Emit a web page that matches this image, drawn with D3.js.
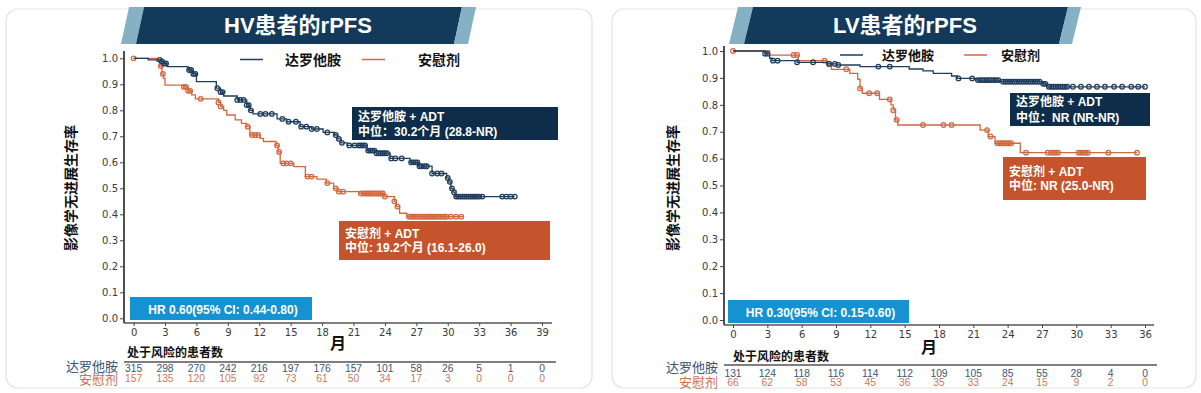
<!DOCTYPE html>
<html><head><meta charset="utf-8">
<script src="https://cdn.jsdelivr.net/npm/d3@7"></script>
<style>
body{margin:0;background:#fff}
svg{display:block}
text{font-family:"Liberation Sans","Noto Sans CJK SC",sans-serif}
.tick text{font-family:"DejaVu Sans","Liberation Sans",sans-serif}
</style>
</head><body>
<svg id="c" width="1201" height="393"></svg>
<script>
// ---------- data ----------
const titles = ["HV患者的rPFS", "LV患者的rPFS"];
const seriesNames = ["达罗他胺", "安慰剂"];
const yAxisTitle = "影像学无进展生存率";
const xAxisTitle = "月";
const riskTitle = "处于风险的患者数";
const yTicks = [0.0, 0.1, 0.2, 0.3, 0.4, 0.5, 0.6, 0.7, 0.8, 0.9, 1.0];
const hvTicks = [0, 3, 6, 9, 12, 15, 18, 21, 24, 27, 30, 33, 36, 39];
const lvTicks = [0, 3, 6, 9, 12, 15, 18, 21, 24, 27, 30, 33, 36];

const hvRiskDaro = [315, 298, 270, 242, 216, 197, 176, 157, 101, 58, 26, 5, 1, 0];
const hvRiskPbo  = [157, 135, 120, 105, 92, 73, 61, 50, 34, 17, 3, 0, 0, 0];
const lvRiskDaro = [131, 124, 118, 116, 114, 112, 109, 105, 85, 55, 28, 4, 0];
const lvRiskPbo  = [66, 62, 58, 53, 45, 36, 35, 33, 24, 15, 9, 2, 0];

// Kaplan-Meier steps: [month, survival after step]
const hvDaroSteps = [[0,1.0],[1.4,0.994],[2.6,0.988],[2.9,0.98],[3.2,0.968],[5.2,0.955],[5.6,0.94],[6.0,0.91],[7.9,0.885],[8.3,0.87],[8.6,0.855],[9.9,0.84],[10.8,0.82],[11.1,0.80],[11.4,0.786],[13.7,0.767],[14.6,0.756],[15.9,0.737],[17.0,0.728],[18.1,0.715],[19.2,0.705],[19.5,0.69],[19.8,0.675],[20.4,0.665],[22.3,0.645],[23.2,0.635],[24.5,0.615],[26.4,0.60],[27.2,0.585],[28.5,0.557],[29.9,0.54],[30.1,0.525],[30.3,0.50],[30.5,0.485],[30.7,0.468]];
const hvDaroEnd = 36.4;
const hvDaroCensor = [2.5,2.7,2.9,3.1,5.3,5.5,5.7,5.9,8.0,8.3,8.5,9.9,10.2,10.5,10.8,11.0,11.2,12.1,12.6,13.2,14.2,14.8,15.5,16.0,16.5,17.0,17.5,18.5,19.3,19.6,19.9,20.6,21.1,21.5,21.7,21.9,22.1,22.4,22.6,22.8,23.0,23.2,23.4,23.6,23.8,24.0,24.2,24.6,25.0,25.6,26.5,26.7,26.9,27.1,27.3,27.5,27.8,28.0,28.5,29.0,29.4,30.0,30.2,30.4,30.6,30.8,31.0,31.2,31.4,31.6,31.8,32.0,32.2,32.4,32.6,32.8,33.0,33.3,35.2,35.6,36.0,36.4];

const hvPboSteps = [[0,1.0],[2.2,0.99],[2.5,0.97],[2.7,0.94],[2.85,0.923],[3.0,0.897],[4.75,0.89],[5.2,0.875],[5.55,0.859],[5.9,0.844],[8.1,0.83],[8.3,0.815],[8.6,0.80],[8.9,0.782],[9.7,0.763],[10.3,0.75],[10.8,0.737],[11.1,0.705],[12.1,0.692],[12.4,0.68],[13.6,0.665],[13.8,0.64],[14.0,0.596],[15.3,0.583],[16.4,0.545],[17.5,0.535],[18.4,0.52],[19.1,0.50],[19.5,0.487],[21.6,0.48],[23.9,0.468],[24.9,0.45],[25.1,0.43],[25.4,0.404],[26.1,0.391]];
const hvPboEnd = 31.5;
const hvPboCensor = [0,2.6,2.8,4.8,5.0,5.2,5.4,6.4,8.1,8.3,10.9,11.3,11.6,11.9,13.7,13.9,14.3,14.6,15.0,16.6,17.0,18.5,19.3,19.6,20.0,21.7,22.0,22.2,22.4,22.6,22.8,23.0,23.2,23.4,23.6,23.8,24.0,24.9,25.2,26.3,26.5,26.7,26.9,27.1,27.3,27.5,27.7,27.9,28.1,28.3,28.5,28.7,28.9,29.1,29.3,29.5,29.7,29.9,30.3,30.8,31.3];

const lvDaroSteps = [[0,1.0],[2.8,0.99],[3.2,0.973],[3.4,0.964],[5.6,0.958],[8.2,0.952],[9.1,0.948],[11.1,0.942],[15.4,0.933],[16.6,0.926],[17.5,0.917],[19.1,0.907],[19.6,0.898],[21.3,0.892],[23.3,0.886],[27.0,0.878],[27.4,0.867]];
const lvDaroEnd = 36.0;
const lvDaroCensor = [2.8,3.0,3.5,3.9,5.6,7.0,8.4,8.9,9.2,12.7,13.7,19.7,20.9,21.4,21.6,21.8,22.0,22.2,22.4,22.6,22.8,23.0,23.2,23.6,23.8,24.0,24.2,24.4,24.6,24.8,25.0,25.2,25.4,25.6,25.8,26.0,26.2,26.4,26.6,26.8,27.1,27.3,27.6,27.8,28.0,28.2,28.4,28.6,28.8,29.0,29.2,29.7,30.4,31.1,31.8,32.5,33.3,34.0,34.8,35.4,36.0];

const lvPboSteps = [[0,1.0],[3.2,0.985],[5.7,0.964],[8.2,0.952],[8.6,0.932],[10.2,0.917],[10.9,0.895],[11.1,0.861],[11.3,0.843],[12.8,0.82],[13.8,0.80],[14.0,0.78],[14.2,0.744],[14.4,0.725],[21.6,0.706],[22.3,0.682],[22.9,0.657],[25.1,0.622]];
const lvPboEnd = 35.3;
const lvPboCensor = [0,5.3,5.6,8.0,8.4,9.9,11.1,11.9,12.6,13.7,14.0,14.3,16.6,18.4,19.1,22.2,22.5,23.1,23.3,23.5,23.7,23.9,24.1,24.3,25.6,27.5,27.8,28.0,28.2,28.4,30.2,30.4,30.6,30.8,31.0,32.8,35.3];

const hvDaroNote = ["达罗他胺 + ADT", "中位：30.2个月 (28.8-NR)"];
const hvPboNote  = ["安慰剂 + ADT", "中位: 19.2个月 (16.1-26.0)"];
const lvDaroNote = ["达罗他胺 + ADT", "中位：NR (NR-NR)"];
const lvPboNote  = ["安慰剂 + ADT", "中位: NR (25.0-NR)"];
const hvHR = "HR 0.60(95% CI: 0.44-0.80)";
const lvHR = "HR 0.30(95% CI: 0.15-0.60)";

// ---------- style ----------
const NAVY = "#1f3d5e", ORANGE = "#d2683f";
const NAVY_BOX = "#0e2d4a", ORANGE_BOX = "#c5532b", HR_BOX = "#1592d2";
const BANNER = "#133a5b", BANNER_LT = "#86b1c5";

const svg = d3.select("#c");

function survAt(steps, t) {
  let s = steps[0][1];
  for (const p of steps) { if (p[0] <= t + 1e-9) s = p[1]; else break; }
  return s;
}

function panel(o) {
  const g = svg.append("g");
  g.append("rect").attr("x", o.card[0]).attr("y", o.card[1]).attr("width", o.card[2]).attr("height", o.card[3])
    .attr("rx", 12).attr("fill", "#fff").attr("stroke", "#dfe3e7").attr("stroke-width", 1.2);

  // banner
  const b = o.banner;
  const [t0, t1] = [7, 44];
  const poly = pts => pts.map(p => p.join(",")).join(" ");
  g.append("polygon").attr("points", poly([[b[0], t1], [b[0] + b[4], t0], [b[1] + b[4], t0], [b[1], t1]])).attr("fill", BANNER_LT);
  g.append("polygon").attr("points", poly([[b[1], t1], [b[1] + b[4], t0], [b[2] + b[4], t0], [b[2], t1]])).attr("fill", BANNER);
  g.append("polygon").attr("points", poly([[b[2], t1], [b[2] + b[4], t0], [b[3] + b[4], t0], [b[3], t1]])).attr("fill", BANNER_LT);
  g.append("text").attr("x", o.titleX).attr("y", 33).attr("text-anchor", "middle").attr("fill", "#fff")
    .attr("font-size", 22).attr("font-weight", "bold").text(o.title);

  const x = d3.scaleLinear().domain([0, o.xMax]).range(o.xRange);
  const y = d3.scaleLinear().domain([0, 1]).range(o.yRange);

  // axes
  g.append("line").attr("x1", o.axX).attr("x2", o.axX).attr("y1", o.axYTop).attr("y2", o.axY)
    .attr("stroke", "#3c3c3c").attr("stroke-width", 1.8);
  g.append("line").attr("x1", o.axX).attr("x2", o.axXEnd).attr("y1", o.axY).attr("y2", o.axY)
    .attr("stroke", "#555").attr("stroke-width", 1.5);
  const ya = g.append("g").attr("transform", `translate(${o.axX},0)`)
    .call(d3.axisLeft(y).tickValues(yTicks).tickFormat(d3.format(".1f")).tickSize(4).tickPadding(2));
  const xa = g.append("g").attr("transform", `translate(0,${o.axY})`)
    .call(d3.axisBottom(x).tickValues(o.ticks).tickSize(3).tickPadding(3));
  [ya, xa].forEach(a => {
    a.select(".domain").remove();
    a.selectAll(".tick line").attr("stroke", "#444");
    a.selectAll(".tick text").attr("fill", "#3a3a3a").attr("font-size", 10);
  });

  // axis titles
  g.append("text").attr("transform", `translate(${o.yTitleX},188) rotate(-90)`).attr("text-anchor", "middle")
    .attr("dominant-baseline", "central").attr("font-size", 14).attr("font-weight", "bold").attr("fill", "#111").text(yAxisTitle);
  g.append("text").attr("x", o.monthPos[0]).attr("y", o.monthPos[1]).attr("text-anchor", "middle")
    .attr("dominant-baseline", "central").attr("font-size", 16).attr("font-weight", "bold").attr("fill", "#111").text(xAxisTitle);

  // legend
  const L = o.legend;
  [[NAVY, seriesNames[0], L.l1, L.t1], [ORANGE, seriesNames[1], L.l2, L.t2]].forEach(([c, name, lx, tx]) => {
    g.append("line").attr("x1", lx).attr("x2", lx + 23).attr("y1", L.y).attr("y2", L.y).attr("stroke", c).attr("stroke-width", 1.5);
    g.append("text").attr("x", tx).attr("y", L.y + L.fs * 0.38).attr("font-size", L.fs).attr("font-weight", "bold").attr("fill", "#111").text(name);
  });

  // curves
  const line = d3.line().x(d => x(d[0])).y(d => y(d[1])).curve(d3.curveStepAfter);
  o.series.forEach(s => {
    const pts = s.steps.concat([[s.end, s.steps[s.steps.length - 1][1]]]);
    g.append("path").attr("d", line(pts)).attr("fill", "none").attr("stroke", s.color).attr("stroke-width", 1.3);
    g.append("g").selectAll("circle").data(s.censor).join("circle")
      .attr("cx", t => x(t)).attr("cy", t => y(survAt(s.steps, t))).attr("r", 2.3)
      .attr("fill", "none").attr("stroke", s.color).attr("stroke-width", 1.25);
  });

  // note boxes
  o.notes.forEach(n => {
    g.append("rect").attr("x", n.box[0]).attr("y", n.box[1]).attr("width", n.box[2]).attr("height", n.box[3]).attr("fill", n.color);
    n.lines.forEach((txt, i) => {
      g.append("text").attr("x", n.box[0] + 6).attr("y", n.ty[i]).attr("dominant-baseline", "central")
        .attr("font-size", 12).attr("font-weight", "bold").attr("fill", "#fff").text(txt);
    });
  });
  g.append("rect").attr("x", o.hrBox[0]).attr("y", o.hrBox[1]).attr("width", o.hrBox[2]).attr("height", o.hrBox[3]).attr("fill", HR_BOX);
  g.append("text").attr("x", o.hrBox[0] + o.hrBox[2] / 2 + 2).attr("y", o.hrBox[1] + o.hrBox[3] / 2 + 1)
    .attr("text-anchor", "middle").attr("dominant-baseline", "central").attr("font-size", 12).attr("font-weight", "bold")
    .attr("fill", "#fff").text(o.hr);

  // risk table
  const R = o.risk;
  g.append("text").attr("x", R.titleX).attr("y", R.titleY).attr("dominant-baseline", "central").attr("font-size", 12)
    .attr("font-weight", "bold").attr("fill", "#111").text(riskTitle);
  g.append("line").attr("x1", o.axX).attr("x2", R.lineEnd).attr("y1", R.lineY).attr("y2", R.lineY).attr("stroke", "#555").attr("stroke-width", 1.5);
  [[seriesNames[0], R.lab1Y, "#35557a"], [seriesNames[1], R.lab2Y, "#c8734f"]].forEach(([t, yy, c]) => {
    g.append("text").attr("x", R.labX).attr("y", yy).attr("text-anchor", "end").attr("dominant-baseline", "central")
      .attr("font-size", 13).attr("fill", c).text(t);
  });
  [[o.riskDaro, R.row1Y, "#3b5573"], [o.riskPbo, R.row2Y, "#cd7a57"]].forEach(([arr, yy, c]) => {
    g.append("g").selectAll("text").data(arr).join("text")
      .attr("x", (d, i) => x(o.ticks[i])).attr("y", yy).attr("text-anchor", "middle").attr("dominant-baseline", "central")
      .attr("font-family", "DejaVu Sans, sans-serif").attr("font-size", 10.3).attr("fill", c).text(d => d);
  });
}

panel({
  card: [6, 9, 586, 379], banner: [121, 136, 454, 468, 8], title: titles[0], titleX: 298,
  xMax: 39, xRange: [133.6, 542], yRange: [318.3, 58.3], ticks: hvTicks,
  axX: 124, axY: 323, axYTop: 51, axXEnd: 552, yTitleX: 71, monthPos: [338, 343],
  legend: { l1: 240, t1: 285, l2: 362, t2: 418, y: 59.5, fs: 14 },
  series: [
    { steps: hvPboSteps, end: hvPboEnd, censor: hvPboCensor, color: ORANGE },
    { steps: hvDaroSteps, end: hvDaroEnd, censor: hvDaroCensor, color: NAVY }
  ],
  notes: [
    { box: [352, 107, 206, 33], color: NAVY_BOX, lines: hvDaroNote, ty: [117, 132] },
    { box: [339, 221, 211, 39], color: ORANGE_BOX, lines: hvPboNote, ty: [234, 248] }
  ],
  hrBox: [130, 297, 182, 23], hr: hvHR,
  riskDaro: hvRiskDaro, riskPbo: hvRiskPbo,
  risk: { titleX: 127, titleY: 353, lineY: 362, lineEnd: 556, labX: 118, lab1Y: 366, lab2Y: 379, row1Y: 368.5, row2Y: 378 }
});

panel({
  card: [612, 9, 584, 379], banner: [729, 744, 1059, 1072, 9], title: titles[1], titleX: 905,
  xMax: 36, xRange: [733, 1145], yRange: [320, 51], ticks: lvTicks,
  axX: 724, axY: 325, axYTop: 46, axXEnd: 1154, yTitleX: 673, monthPos: [929, 347],
  legend: { l1: 840, t1: 882, l2: 964, t2: 1001, y: 55, fs: 13 },
  series: [
    { steps: lvPboSteps, end: lvPboEnd, censor: lvPboCensor, color: ORANGE },
    { steps: lvDaroSteps, end: lvDaroEnd, censor: lvDaroCensor, color: NAVY }
  ],
  notes: [
    { box: [1010, 93, 140, 33], color: NAVY_BOX, lines: lvDaroNote, ty: [102, 118] },
    { box: [1003, 157, 143, 43], color: ORANGE_BOX, lines: lvPboNote, ty: [172, 186] }
  ],
  hrBox: [728, 300, 181, 23], hr: lvHR,
  riskDaro: lvRiskDaro, riskPbo: lvRiskPbo,
  risk: { titleX: 733, titleY: 357, lineY: 365, lineEnd: 1157, labX: 718, lab1Y: 367.5, lab2Y: 382, row1Y: 373, row2Y: 382 }
});
</script>
</body></html>
